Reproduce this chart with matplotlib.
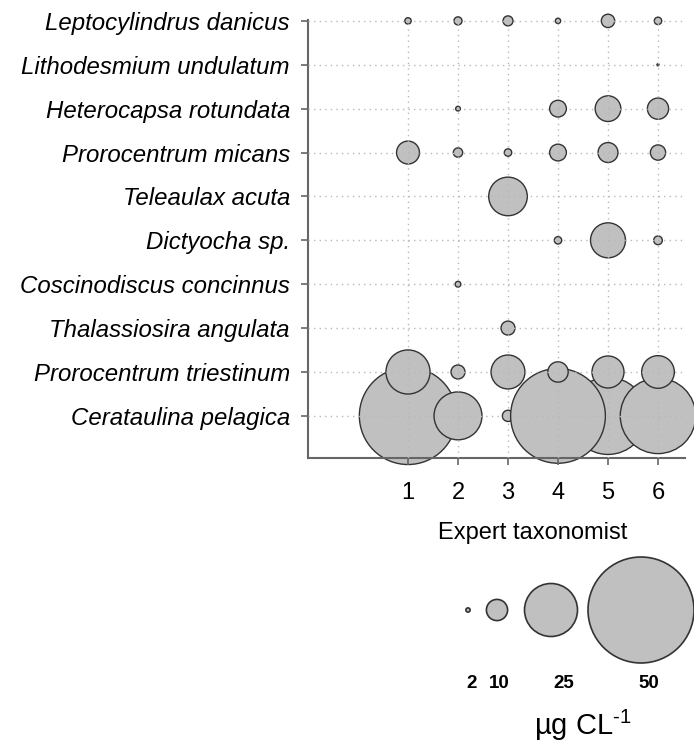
import numpy as np
import matplotlib
matplotlib.use('Agg')
import matplotlib.pyplot as plt

plt.rcParams['font.family'] = ['Liberation Sans', 'DejaVu Sans']
plt.rcParams['mathtext.fontset'] = 'custom'
plt.rcParams['mathtext.rm'] = 'Liberation Sans'
plt.rcParams['mathtext.it'] = 'Liberation Sans:italic'

# biomass (ug C / L) per species and expert, 0 = not recorded
species = ['Leptocylindrus danicus', 'Lithodesmium undulatum', 'Heterocapsa rotundata',
           'Prorocentrum micans', 'Teleaulax acuta', 'Dictyocha sp.',
           'Coscinodiscus concinnus', 'Thalassiosira angulata',
           'Prorocentrum triestinum', 'Cerataulina pelagica']
experts = [1, 2, 3, 4, 5, 6]

leptocylindrus = [3.0, 3.8, 4.7, 2.5, 6.3, 3.5]
lithodesmium = [0, 0, 0, 0, 0, 1.0]
heterocapsa = [0, 2.2, 0, 7.9, 12.1, 10.0]
p_micans = [10.8, 4.4, 3.5, 7.9, 9.4, 7.2]
teleaulax = [0, 0, 18.2, 0, 0, 0]
dictyocha = [0, 0, 0, 3.5, 16.5, 4.1]
coscinodiscus = [0, 2.7, 0, 0, 0, 0]
thalassiosira = [0, 0, 6.6, 0, 0, 0]
p_triestinum = [20.8, 6.6, 16.0, 9.6, 15.1, 15.4]
cerataulina = [45.9, 22.6, 5.3, 44.7, 36.4, 35.6]

biomass = [leptocylindrus, lithodesmium, heterocapsa, p_micans, teleaulax,
           dictyocha, coscinodiscus, thalassiosira, p_triestinum, cerataulina]

legend_values = [2, 10, 25, 50]

DPI = 100
PX_PER_UNIT = 2.12          # circle diameter in pixels per ug C/L


def area(v):
    d_pt = np.asarray(v, dtype=float) * PX_PER_UNIT * 72 / DPI
    return d_pt ** 2


fill = '#c0c0c0'
edge = '#333333'

fig = plt.figure(figsize=(6.94, 7.42), dpi=DPI)
ax = fig.add_axes([308/694, 1 - 458/742, 377/694, 438/742])

# bottom row first, so upper rows sit on top; expert 5 goes underneath in each row
col_order = [4, 0, 1, 2, 3, 5]
xs, ys, vs = [], [], []
n = len(species)
for i in range(n - 1, -1, -1):
    for j in col_order:
        v = biomass[i][j]
        if v > 0:
            xs.append(experts[j])
            ys.append(n - i)
            vs.append(v)
ax.scatter(xs, ys, s=area(vs), c=fill, edgecolors=edge, linewidths=1.0,
           clip_on=False, zorder=1)

ax.set_xlim(-1, 6.54)
ax.set_ylim(0.04, 10.02)
ax.set_xticks(experts)
ax.set_xticklabels([str(e) for e in experts], fontsize=17)
ax.set_yticks(np.arange(n, 0, -1))
ax.set_yticklabels(species, fontsize=17.3, fontstyle='italic')

ax.grid(True, linestyle=(0, (1, 3)), color='#b8b8b8', linewidth=1.0)
ax.set_axisbelow(False)
for side in ['top', 'right']:
    ax.spines[side].set_visible(False)
for side in ['left', 'bottom']:
    ax.spines[side].set_color('#666666')
    ax.spines[side].set_linewidth(1.5)
ax.tick_params(axis='both', colors='#666666', length=5, width=1.2, labelcolor='black')
ax.tick_params(axis='y', pad=8)
ax.tick_params(axis='x', pad=12)

ax.text(3.5, -(539 - 458) / 438, 'Expert taxonomist', transform=ax.get_xaxis_transform(),
        fontsize=17, ha='center', va='baseline')

# size legend in pixel coordinates
lax = fig.add_axes([0, 0, 1, 1])
lax.set_xlim(0, 694)
lax.set_ylim(742, 0)
lax.axis('off')
legend_x = [468, 497, 551, 641]
label_x = [472, 499, 564, 649]
lax.scatter(legend_x, [610] * len(legend_values), s=area(legend_values),
            c=fill, edgecolors=edge, linewidths=1.2)
for lx, v in zip(label_x, legend_values):
    lax.text(lx, 683, str(v), fontsize=13.5, fontweight='bold', ha='center', va='center')
lax.text(583, 735, r'µg CL$^{\text{-1}}$', fontsize=21, ha='center', va='baseline')

fig.savefig('out.png', dpi=DPI)
